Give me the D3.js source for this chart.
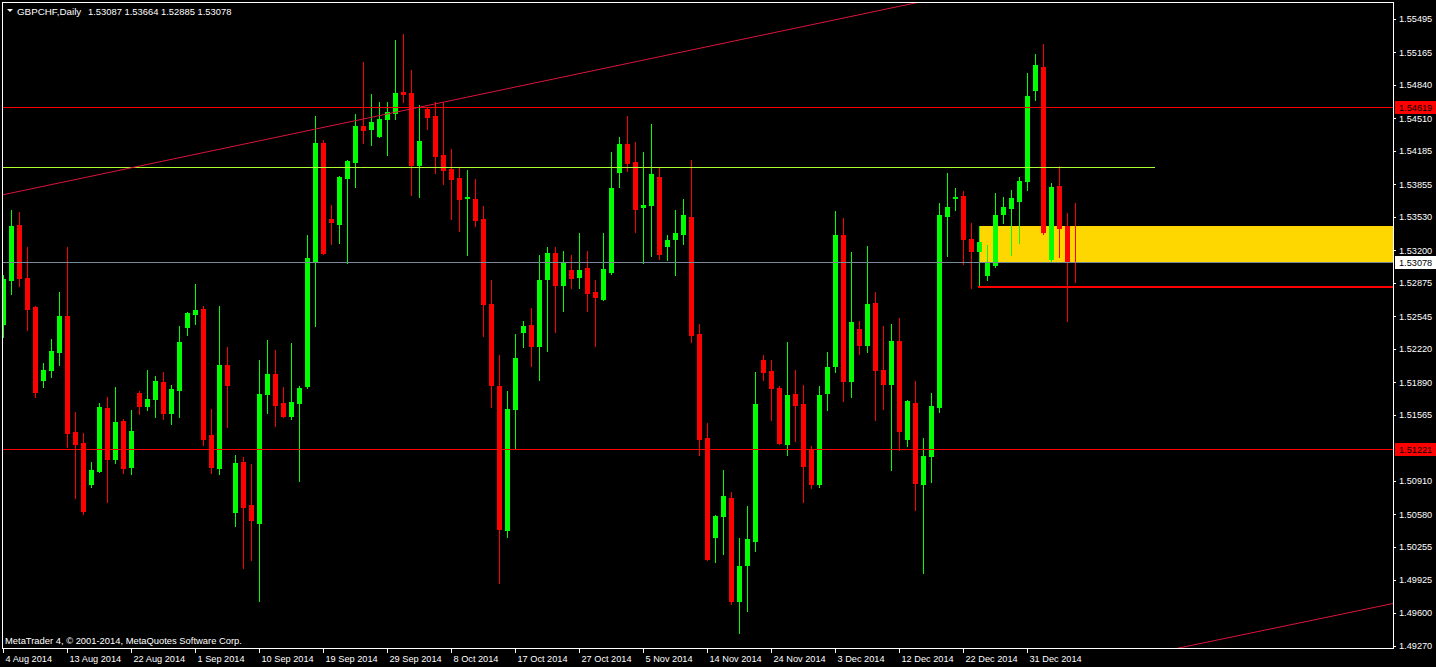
<!DOCTYPE html>
<html>
<head>
<meta charset="utf-8">
<script src="https://cdn.jsdelivr.net/npm/d3@7"></script>
<style>
  html, body { margin: 0; padding: 0; background: #000; }
  svg { display: block; font-family: "Liberation Sans", Arial, sans-serif; }
</style>
</head>
<body>
<script>
var width = 1436,
  height = 667,
  plotLeft = 2,
  plotRight = 1393,
  plotTop = 2,
  plotBottom = 648;

var symbolName = "GBPCHF,Daily";
var copyright = "MetaTrader 4, \u00a9 2001-2014, MetaQuotes Software Corp.";

// daily bars, 4 Aug 2014 .. 7 Jan 2015 (index 0 = 4 Aug)
var opens = [1.5247, 1.5290, 1.5345, 1.5292, 1.5264, 1.5191, 1.5201, 1.5219, 1.5255, 1.5139,
  1.5129, 1.5088, 1.5101, 1.5163, 1.5113, 1.5150, 1.5105, 1.5178, 1.5165, 1.5172,
  1.5189, 1.5158, 1.5181, 1.5244, 1.5257, 1.5262, 1.5136, 1.5104, 1.5206, 1.5060,
  1.5110, 1.5067, 1.5049, 1.5177, 1.5197, 1.5168, 1.5155, 1.5168, 1.5185, 1.5309,
  1.5426, 1.5351, 1.5346, 1.5392, 1.5408, 1.5443, 1.5440, 1.5433, 1.5450, 1.5456,
  1.5477, 1.5476, 1.5405, 1.5460, 1.5453, 1.5414, 1.5401, 1.5392, 1.5372, 1.5371,
  1.5351, 1.5267, 1.5185, 1.5042, 1.5162, 1.5239, 1.5246, 1.5225, 1.5291, 1.5317,
  1.5285, 1.5300, 1.5293, 1.5302, 1.5278, 1.5272, 1.5298, 1.5398, 1.5425, 1.5408,
  1.5363, 1.5365, 1.5393, 1.5324, 1.5331, 1.5336, 1.5353, 1.5237, 1.5134, 1.5035,
  1.5056, 1.5074, 1.4972, 1.5007, 1.5031, 1.5211, 1.5200, 1.5183, 1.5128, 1.5177,
  1.5167, 1.5122, 1.5088, 1.5178, 1.5205, 1.5335, 1.5190, 1.5242, 1.5226, 1.5268,
  1.5201, 1.5187, 1.5230, 1.5133, 1.5168, 1.5088, 1.5116, 1.5164, 1.5354, 1.5372,
  1.5374, 1.5331, 1.5319, 1.5295, 1.5305, 1.5356, 1.5362, 1.5369, 1.5389, 1.5479,
  1.5502, 1.5311, 1.5384, 1.5344, 1.53087];

var highs = [1.5295, 1.5360, 1.5358, 1.5323, 1.5265, 1.5208, 1.5232, 1.5278, 1.5323, 1.5159,
  1.5138, 1.5110, 1.5168, 1.5174, 1.5184, 1.5152, 1.5161, 1.5180, 1.5201, 1.5195,
  1.5199, 1.5186, 1.5245, 1.5259, 1.5286, 1.5265, 1.5162, 1.5265, 1.5224, 1.5117,
  1.5115, 1.5108, 1.5211, 1.5231, 1.5221, 1.5184, 1.5228, 1.5185, 1.5335, 1.5453,
  1.5429, 1.5365, 1.5394, 1.5410, 1.5455, 1.5507, 1.5475, 1.5467, 1.5467, 1.5529,
  1.5535, 1.5499, 1.5464, 1.5461, 1.5467, 1.5467, 1.5420, 1.5402, 1.5400, 1.5391,
  1.5364, 1.5290, 1.5216, 1.5180, 1.5237, 1.5250, 1.5263, 1.5315, 1.5323, 1.5323,
  1.5319, 1.5315, 1.5337, 1.5319, 1.5290, 1.5337, 1.5417, 1.5432, 1.5453, 1.5427,
  1.5417, 1.5445, 1.5402, 1.5335, 1.5360, 1.5371, 1.5410, 1.5247, 1.5148, 1.5057,
  1.5102, 1.5080, 1.5034, 1.5066, 1.5199, 1.5216, 1.5211, 1.5185, 1.5229, 1.5201,
  1.5186, 1.5126, 1.5185, 1.5219, 1.5359, 1.5352, 1.5318, 1.5250, 1.5324, 1.5278,
  1.5245, 1.5247, 1.5253, 1.5171, 1.5190, 1.5134, 1.5178, 1.5367, 1.5397, 1.5382,
  1.5379, 1.5347, 1.5344, 1.5325, 1.5377, 1.5373, 1.5380, 1.5393, 1.5496, 1.5515,
  1.5525, 1.5387, 1.5404, 1.5357, 1.53664];

var lows = [1.5234, 1.5276, 1.5284, 1.5241, 1.5174, 1.5184, 1.5194, 1.5206, 1.5125, 1.5074,
  1.5058, 1.5085, 1.5100, 1.5070, 1.5109, 1.5099, 1.5098, 1.5157, 1.5161, 1.5154,
  1.5152, 1.5147, 1.5154, 1.5236, 1.5247, 1.5127, 1.5099, 1.5098, 1.5144, 1.5046,
  1.5004, 1.5012, 1.4972, 1.5158, 1.5145, 1.5154, 1.5152, 1.5091, 1.5183, 1.5245,
  1.5316, 1.5326, 1.5327, 1.5307, 1.5383, 1.5426, 1.5424, 1.5432, 1.5414, 1.5450,
  1.5467, 1.5375, 1.5373, 1.5440, 1.5397, 1.5386, 1.5351, 1.5339, 1.5315, 1.5344,
  1.5235, 1.5164, 1.4990, 1.5035, 1.5124, 1.5224, 1.5205, 1.5191, 1.5220, 1.5239,
  1.5260, 1.5282, 1.5282, 1.5260, 1.5225, 1.5271, 1.5296, 1.5383, 1.5399, 1.5338,
  1.5307, 1.5314, 1.5311, 1.5310, 1.5295, 1.5326, 1.5229, 1.5117, 1.5012, 1.5010,
  1.5018, 1.4969, 1.4940, 1.4962, 1.5021, 1.5191, 1.5151, 1.5128, 1.5117, 1.5131,
  1.5070, 1.5084, 1.5085, 1.5161, 1.5199, 1.5170, 1.5174, 1.5217, 1.5219, 1.5151,
  1.5162, 1.5102, 1.5122, 1.5126, 1.5062, 1.4999, 1.5090, 1.5159, 1.5314, 1.5360,
  1.5306, 1.5282, 1.5284, 1.5290, 1.5303, 1.5347, 1.5315, 1.5327, 1.5380, 1.5469,
  1.5336, 1.5308, 1.5313, 1.5250, 1.52885];

var closes = [1.5291, 1.5344, 1.5292, 1.5262, 1.5179, 1.5201, 1.5220, 1.5255, 1.5138, 1.5128,
  1.5061, 1.5102, 1.5164, 1.5113, 1.5149, 1.5104, 1.5140, 1.5165, 1.5172, 1.5190,
  1.5158, 1.5182, 1.5229, 1.5258, 1.5261, 1.5133, 1.5105, 1.5206, 1.5186, 1.5109,
  1.5065, 1.5052, 1.5177, 1.5197, 1.5166, 1.5155, 1.5169, 1.5183, 1.5312, 1.5426,
  1.5317, 1.5348, 1.5393, 1.5409, 1.5443, 1.5439, 1.5447, 1.5450, 1.5457, 1.5476,
  1.5475, 1.5405, 1.5428, 1.5452, 1.5413, 1.5400, 1.5391, 1.5371, 1.5373, 1.5350,
  1.5267, 1.5186, 1.5043, 1.5162, 1.5213, 1.5245, 1.5225, 1.5290, 1.5317, 1.5285,
  1.5307, 1.5292, 1.5300, 1.5277, 1.5273, 1.5301, 1.5382, 1.5425, 1.5407, 1.5361,
  1.5365, 1.5396, 1.5316, 1.5330, 1.5337, 1.5355, 1.5236, 1.5133, 1.5013, 1.5056,
  1.5076, 1.4972, 1.5006, 1.5033, 1.5167, 1.5199, 1.5183, 1.5129, 1.5176, 1.5166,
  1.5106, 1.5088, 1.5176, 1.5204, 1.5335, 1.5190, 1.5249, 1.5226, 1.5267, 1.5201,
  1.5187, 1.5230, 1.5140, 1.5170, 1.5089, 1.5116, 1.5165, 1.5355, 1.5363, 1.5373,
  1.5331, 1.5319, 1.5328, 1.5307, 1.5355, 1.5363, 1.5372, 1.5389, 1.5473, 1.5504,
  1.5338, 1.5383, 1.5342, 1.5308, 1.53078];

// one label every 8 bars
var dateLabels = ["4 Aug 2014", "13 Aug 2014", "22 Aug 2014", "1 Sep 2014", "10 Sep 2014",
  "19 Sep 2014", "29 Sep 2014", "8 Oct 2014", "17 Oct 2014", "27 Oct 2014", "5 Nov 2014",
  "14 Nov 2014", "24 Nov 2014", "3 Dec 2014", "12 Dec 2014", "22 Dec 2014", "31 Dec 2014"];

var priceTicks = [1.55495, 1.55165, 1.54840, 1.54510, 1.54185, 1.53855, 1.53530, 1.53200,
  1.52875, 1.52545, 1.52220, 1.51890, 1.51565, 1.50910, 1.50580, 1.50255, 1.49925,
  1.49600, 1.49270];

// drawn objects (bar index, price)
var redLevels = [1.54619, 1.51221];
var bidPrice = 1.53078;
var flatLine = [-20, 144, 1.54023];
var channelUpper = [[0, 1.5375], [100, 1.5542]];
var channelLower = [[150, 1.4930], [170, 1.4963]];
var zoneBars = [122, 200];
var zonePrices = [1.5344, 1.5308];
var supportLine = [122, 200, 1.52839];

var svg = d3.select("body").append("svg")
  .attr("width", width)
  .attr("height", height);

svg.append("rect")
  .attr("width", width)
  .attr("height", height)
  .attr("fill", "#000");

// bar index -> pixel column, 8px per bar
var x = d3.scaleLinear()
  .domain([0, (plotRight - 3) / 8])
  .range([3, plotRight]);

var y = d3.scaleLinear()
  .domain([1.49270, 1.55495])
  .range([646, 19]);

function py(p) { return Math.round(y(p)); }

svg.append("defs").append("clipPath")
  .attr("id", "plot")
  .append("rect")
  .attr("x", plotLeft + 1)
  .attr("y", plotTop + 1)
  .attr("width", plotRight - plotLeft - 1)
  .attr("height", plotBottom - plotTop - 1);

var g = svg.append("g")
  .attr("clip-path", "url(#plot)")
  .attr("shape-rendering", "crispEdges");

// yellow zone (background object)
g.append("rect")
  .attr("x", x(zoneBars[0]))
  .attr("y", py(zonePrices[0]))
  .attr("width", x(zoneBars[1]) - x(zoneBars[0]))
  .attr("height", py(zonePrices[1]) - py(zonePrices[0]))
  .attr("fill", "#FFD700");

// candles
var bars = d3.range(opens.length).map(function (i) {
  return { i: i, o: opens[i], h: highs[i], l: lows[i], c: closes[i] };
});

function barColor(d) { return d.c >= d.o ? "#00FF00" : "#FF0000"; }

var candle = g.selectAll(".candle")
  .data(bars)
  .enter()
  .append("g")
  .attr("class", "candle");

candle.append("line")
  .attr("x1", function (d) { return x(d.i) + 0.5; })
  .attr("x2", function (d) { return x(d.i) + 0.5; })
  .attr("y1", function (d) { return py(d.h); })
  .attr("y2", function (d) { return py(d.l) + 1; })
  .attr("stroke", barColor);

candle.append("rect")
  .attr("x", function (d) { return x(d.i) - 2; })
  .attr("y", function (d) { return py(Math.max(d.o, d.c)); })
  .attr("width", 5)
  .attr("height", function (d) {
    return Math.max(1, py(Math.min(d.o, d.c)) - py(Math.max(d.o, d.c)) + 1);
  })
  .attr("fill", barColor);

// horizontal levels
g.selectAll(".level")
  .data(redLevels)
  .enter()
  .append("rect")
  .attr("x", plotLeft)
  .attr("width", plotRight - plotLeft)
  .attr("y", function (d) { return py(d); })
  .attr("height", 1)
  .attr("fill", "#FF0000");

g.append("rect")
  .attr("x", x(flatLine[0]))
  .attr("width", x(flatLine[1]) - x(flatLine[0]))
  .attr("y", py(flatLine[2]))
  .attr("height", 1)
  .attr("fill", "#ADFF2F");

g.append("rect")
  .attr("x", plotLeft)
  .attr("width", plotRight - plotLeft)
  .attr("y", py(bidPrice))
  .attr("height", 1)
  .attr("fill", "#778899");

g.append("rect")
  .attr("x", x(supportLine[0]) - 1)
  .attr("width", x(supportLine[1]) - x(supportLine[0]))
  .attr("y", py(supportLine[2]) - 1)
  .attr("height", 2)
  .attr("fill", "#FF0000");

// channel lines, extended across the chart
function extend(pts, k) {
  var slope = (pts[1][1] - pts[0][1]) / (pts[1][0] - pts[0][0]);
  return pts[0][1] + (k - pts[0][0]) * slope;
}

[channelUpper, channelLower].forEach(function (pts) {
  g.append("line")
    .attr("x1", x(-5))
    .attr("x2", x(185))
    .attr("y1", y(extend(pts, -5)))
    .attr("y2", y(extend(pts, 185)))
    .attr("stroke", "#DC143C")
    .attr("shape-rendering", "auto");
});

// frame
svg.append("rect")
  .attr("x", plotLeft + 0.5)
  .attr("y", plotTop + 0.5)
  .attr("width", plotRight - plotLeft)
  .attr("height", plotBottom - plotTop)
  .attr("fill", "none")
  .attr("stroke", "#fff")
  .attr("shape-rendering", "crispEdges");

// price axis
var yAxis = d3.axisRight(y)
  .tickValues(priceTicks)
  .tickSize(3)
  .tickPadding(3)
  .tickFormat(d3.format(".5f"));

var ya = svg.append("g")
  .attr("transform", "translate(" + plotRight + ",0)")
  .attr("shape-rendering", "crispEdges")
  .call(yAxis);

ya.select(".domain").remove();
ya.selectAll(".tick line").attr("stroke", "#fff");
ya.selectAll(".tick text")
  .attr("fill", "#fff")
  .attr("font-size", 9.2)
  .attr("font-family", "Liberation Sans, Arial, sans-serif");

// price labels of the levels
var priceBoxes = [
  { p: redLevels[0], bg: "#FF0000" },
  { p: bidPrice, bg: "#FFFFFF" },
  { p: redLevels[1], bg: "#FF0000" }
];

var box = svg.selectAll(".pbox")
  .data(priceBoxes)
  .enter()
  .append("g")
  .attr("transform", function (d) { return "translate(" + (plotRight + 2) + "," + py(d.p) + ")"; });

box.append("rect")
  .attr("x", 0)
  .attr("y", -6)
  .attr("width", width - plotRight - 2)
  .attr("height", 13)
  .attr("fill", function (d) { return d.bg; });

box.append("text")
  .attr("x", 4)
  .attr("y", 4)
  .attr("font-size", 9.2)
  .attr("fill", "#000")
  .text(function (d) { return d3.format(".5f")(d.p); });

// date axis
var xAxis = d3.axisBottom(x)
  .tickValues(dateLabels.map(function (d, i) { return i * 8; }))
  .tickFormat(function (d, i) { return dateLabels[i]; })
  .tickSize(5);

var xa = svg.append("g")
  .attr("transform", "translate(0," + plotBottom + ")")
  .attr("shape-rendering", "crispEdges")
  .call(xAxis);

xa.select(".domain").remove();
xa.selectAll(".tick line").attr("stroke", "#fff");
xa.selectAll(".tick text")
  .attr("fill", "#fff")
  .attr("font-size", 9.2)
  .attr("font-family", "Liberation Sans, Arial, sans-serif")
  .attr("text-anchor", "start")
  .attr("x", 2)
  .attr("y", 7);

// header
var last = opens.length - 1;
var fmt = d3.format(".5f");

svg.append("path")
  .attr("d", "M7,9L13,9L10,12Z")
  .attr("fill", "#fff");

svg.append("text")
  .attr("x", 17)
  .attr("y", 15)
  .attr("font-size", 9.8)
  .attr("fill", "#fff")
  .text(symbolName);

svg.append("text")
  .attr("x", 88)
  .attr("y", 15)
  .attr("font-size", 9.4)
  .attr("fill", "#fff")
  .text([opens[last], highs[last], lows[last], closes[last]].map(fmt).join(" "));

svg.append("text")
  .attr("x", 5)
  .attr("y", 644)
  .attr("font-size", 9.4)
  .attr("fill", "#fff")
  .text(copyright);
</script>
</body>
</html>
